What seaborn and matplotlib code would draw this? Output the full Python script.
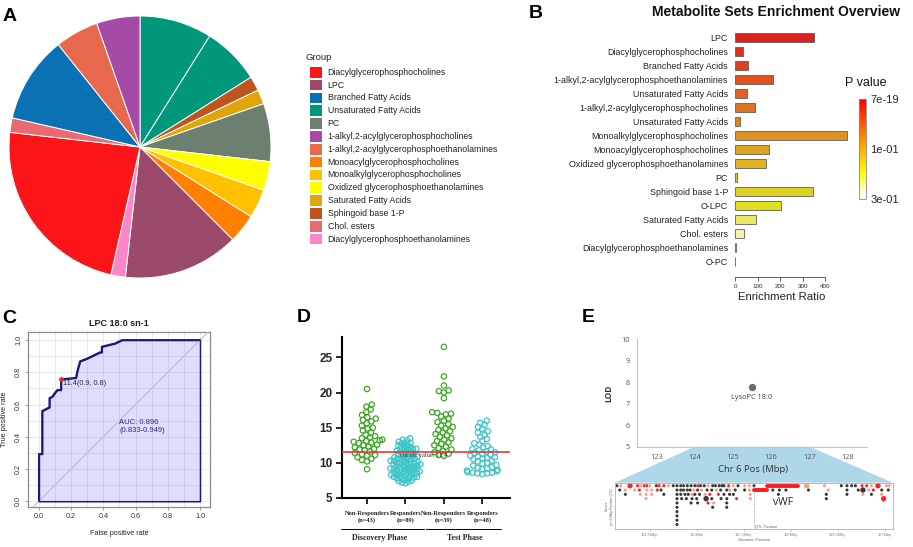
import numpy as np
import pandas as pd
import matplotlib
matplotlib.use("Agg")
import matplotlib.pyplot as plt
import seaborn as sns
from matplotlib.patches import Polygon, Rectangle
from matplotlib.colors import LinearSegmentedColormap, Normalize
from matplotlib.cm import ScalarMappable

# ---------------- Panel A data ----------------
legend_groups = ["Diacylglycerophosphocholines", "LPC", "Branched Fatty Acids",
                 "Unsaturated Fatty Acids", "PC", "1-alkyl,2-acylglycerophosphocholines",
                 "1-alkyl,2-acylglycerophosphoethanolamines", "Monoacylglycerophosphocholines",
                 "Monoalkylglycerophosphocholines", "Oxidized glycerophosphoethanolamines",
                 "Saturated Fatty Acids", "Sphingoid base 1-P", "Chol. esters",
                 "Diacylglycerophosphoethanolamines"]
legend_colors = ["#fb1418", "#9c4a6c", "#0a72b4", "#00977a", "#6d8070", "#a64aa8",
                 "#e8684e", "#ff7f00", "#ffc000", "#ffff00", "#dfa60c", "#c0541e",
                 "#e96a72", "#fa86c8"]
pie_groups = ["Unsaturated Fatty Acids", "Unsaturated Fatty Acids", "Sphingoid base 1-P",
              "Saturated Fatty Acids", "PC", "Oxidized glycerophosphoethanolamines",
              "Monoalkylglycerophosphocholines", "Monoacylglycerophosphocholines", "LPC",
              "Diacylglycerophosphoethanolamines", "Diacylglycerophosphocholines",
              "Chol. esters", "Branched Fatty Acids",
              "1-alkyl,2-acylglycerophosphoethanolamines",
              "1-alkyl,2-acylglycerophosphocholines"]
pie_counts = [5, 4, 1, 1, 4, 2, 2, 2, 8, 1, 13, 1, 6, 3, 3]

# ---------------- Panel B data ----------------
enrich_sets = ["LPC", "Diacylglycerophosphocholines", "Branched Fatty Acids",
               "1-alkyl,2-acylglycerophosphoethanolamines", "Unsaturated Fatty Acids",
               "1-alkyl,2-acylglycerophosphocholines", "Unsaturated Fatty Acids",
               "Monoalkylglycerophosphocholines", "Monoacylglycerophosphocholines",
               "Oxidized glycerophosphoethanolamines", "PC", "Sphingoid base 1-P", "O-LPC",
               "Saturated Fatty Acids", "Chol. esters", "Diacylglycerophosphoethanolamines",
               "O-PC"]
enrich_ratio = [350, 37, 56, 168, 53, 90, 20, 496, 152, 135, 9, 347, 205, 92, 41, 3, 2]
ratio_ticks = [0, 100, 200, 300, 400]
pval_labels = ["7e-19", "1e-01", "3e-01"]

# ---------------- Panel C data ----------------
roc_fpr = [0.0, 0.0, 0.02, 0.02, 0.065, 0.065, 0.083, 0.10, 0.114, 0.137, 0.137, 0.23,
           0.238, 0.255, 0.30, 0.379, 0.39, 0.39, 0.472, 0.516, 1.0]
roc_tpr = [0.0, 0.293, 0.293, 0.56, 0.583, 0.64, 0.649, 0.674, 0.69, 0.69, 0.756, 0.766,
           0.808, 0.868, 0.886, 0.924, 0.924, 0.959, 0.979, 1.0, 1.0]
best_point = [0.137, 0.756]
best_label = "11.4(0.9, 0.8)"
auc_text = "AUC: 0.896\n(0.833-0.949)"

# ---------------- Panel D data ----------------
nr_discovery = [20.5, 18.3, 18.0, 17.6, 17.2, 16.8, 16.5, 16.3, 16.1, 15.9, 15.6, 15.3, 15.0,
                14.9, 14.6, 14.3, 14.0, 13.8, 13.6, 13.5, 13.3, 13.2, 13.0, 12.9, 12.8, 12.6,
                12.5, 12.3, 12.2, 12.0, 11.9, 11.8, 11.6, 11.4, 11.2, 11.1, 11.0, 10.8, 10.6,
                10.4, 10.2, 9.1, 13.1]
r_discovery = [13.5, 13.3, 13.2, 13.0, 12.9, 12.8, 12.7, 12.5, 12.4, 12.3,
               12.2, 12.1, 12.0, 11.9, 11.8, 11.7, 11.6, 11.5, 11.4, 11.3,
               11.2, 11.1, 11.0, 10.9, 10.8, 10.8, 10.7, 10.6, 10.5, 10.5,
               10.4, 10.3, 10.3, 10.2, 10.1, 10.1, 10.0, 10.0, 9.9, 9.8,
               9.8, 9.7, 9.7, 9.6, 9.5, 9.5, 9.4, 9.4, 9.3, 9.2,
               9.2, 9.1, 9.1, 9.0, 8.9, 8.9, 8.8, 8.8, 8.7, 8.6,
               8.6, 8.5, 8.5, 8.4, 8.3, 8.3, 8.2, 8.1, 8.1, 8.0,
               8.0, 7.9, 7.8, 7.8, 7.7, 7.6, 7.5, 7.4, 7.3, 7.2,
               7.1, 11.6, 12.6, 9.9, 10.6, 9.0, 8.4, 12.0, 11.0]
nr_test = [26.5, 22.3, 21.0, 20.3, 20.2, 20.0, 19.2, 17.2, 17.1, 17.0, 16.9, 16.6, 16.3, 16.0,
           15.8, 15.5, 15.3, 15.1, 14.9, 14.7, 14.5, 14.3, 14.1, 13.9, 13.7, 13.5, 13.3, 13.1,
           12.9, 12.7, 12.5, 12.3, 12.1, 11.9, 11.7, 11.5, 11.3, 11.1, 11.0]
r_test = [16.0, 15.7, 15.4, 15.1, 14.8, 14.5, 14.3, 14.0, 13.7, 13.4, 13.1, 12.8, 12.6, 12.4,
          12.2, 12.0, 11.9, 11.8, 11.6, 11.5, 11.4, 11.3, 11.2, 11.0, 10.9, 10.8, 10.6, 10.5,
          10.3, 10.2, 10.0, 9.9, 9.7, 9.6, 9.4, 9.3, 9.2, 9.0, 8.9, 8.8, 8.7, 8.6, 8.5, 8.5,
          8.4, 8.6, 9.1, 10.7]
d_labels = ["Non-Responders\n(n=43)", "Responders\n(n=89)",
            "Non-Responders\n(n=39)", "Responders\n(n=48)"]
phase_names = ["Discovery Phase", "Test Phase"]
cutoff = 11.5
cutoff_label = "cut off value: 11.4"
d_yticks = [5, 10, 15, 20, 25]

# ---------------- Panel E data ----------------
qtl_mbp = [125.5]
qtl_lod = [7.78]
qtl_name = ["LysoPC 18:0"]
zoom_start, zoom_end = 124, 127
row0_mbp = [124.15, 124.19, 124.29, 124.37, 124.40, 124.44, 124.47, 124.50, 124.57, 124.60,
            124.65, 124.70, 124.75, 124.79, 124.83, 124.86, 124.90, 124.94, 124.98, 125.01,
            125.04, 125.08, 125.12, 125.17, 125.20, 125.24, 125.27, 125.29, 125.34, 125.39,
            125.44, 125.51, 125.56, 125.61, 126.17, 126.36, 126.54, 126.60, 126.65, 126.69,
            126.76, 126.81, 126.86, 126.93, 127.02, 127.05]
row0_kind = "ksRrsrrskrrskkkkkkkrkkskkkkkrskssk" + "SskkkkrrsRss"
row1_mbp = [124.18, 124.24, 124.34, 124.39, 124.47, 124.52, 124.58, 124.62, 124.79, 124.83,
            124.86, 124.90, 124.93, 124.97, 125.01, 125.05, 125.11, 125.16, 125.21, 125.255,
            125.32, 125.35, 125.41, 125.51, 125.56, 125.81, 125.88, 125.95, 126.19, 126.40,
            126.60, 126.72, 126.77, 126.83, 126.88, 126.97, 127.04]
row1_kind = "kssrssrkkkkkkskskkskkskks" + "kkkkskkKsrkk"
row2_mbp = [124.24, 124.40, 124.46, 124.52, 124.65, 124.79, 124.83, 124.875, 124.91, 124.95,
            124.98, 125.03, 125.09, 125.14, 125.23, 125.29, 125.35, 125.39, 125.57, 125.87,
            126.38, 126.60, 126.77, 126.86, 126.97]
row2_kind = "kssskkkkkskksrrkkkskkksks"
row3_mbp = [124.46, 124.79, 124.84, 124.89, 124.95, 125.00, 125.10, 125.16, 125.26, 125.32,
            125.425, 125.57, 126.38, 126.99]
row3_kind = "skkkkkKkkkrskR"
row4_mbp = [124.79, 124.94, 125.01, 125.12, 125.18, 125.32]
row4_kind = "kkkrsk"
row5_mbp = [124.79, 125.17, 125.32]
row5_kind = "kkk"
stack_mbp = 124.79
stack_rows = [6, 7, 8, 9]
vwf_rows = [0, 1]
vwf_start = [125.75, 125.61]
vwf_end = [126.08, 125.745]
qtl_track = 125.61
track_ticks = [124.5, 125.0, 125.5, 126.0, 126.5, 127.0]
track_ticklabels = ["124.5Mbp", "125Mbp", "125.5Mbp", "126Mbp", "126.5Mbp", "127Mbp"]

# ---------------- figure ----------------
sns.set_theme(style="white")
plt.rcParams["font.family"] = ["Liberation Sans", "DejaVu Sans"]

W, H = 913, 547
fig = plt.figure(figsize=(W / 100, H / 100), dpi=100)


def px_axes(l, t, r, b, **kw):
    return fig.add_axes([l / W, 1 - b / H, (r - l) / W, (b - t) / H], **kw)


ov = px_axes(0, 0, W, H, zorder=-5)
ov.set_xlim(0, W)
ov.set_ylim(H, 0)
ov.axis("off")

# panel letters
for letter, (lx, ly) in zip("ABCDE", [(3, 21), (529, 18), (2, 323), (297, 322), (582, 322)]):
    ov.text(lx, ly, letter, fontsize=14, fontweight="bold", va="baseline", ha="left", color="black")

# ---------------- Panel A ----------------
color_of = dict(zip(legend_groups, legend_colors))
axA = px_axes(9, 16, 271, 278)
axA.pie(pie_counts, colors=[color_of[g] for g in pie_groups], startangle=90,
        counterclock=False, wedgeprops=dict(edgecolor="white", linewidth=0.7))
axA.set_xlim(-1, 1)
axA.set_ylim(-1, 1)

ov.text(305, 57, "Group", fontsize=6.8, va="center", ha="left", color="#222")
for i, (g, c) in enumerate(zip(legend_groups, legend_colors)):
    yc = 72.3 + i * 12.83
    ov.add_patch(Rectangle((310, yc - 5.3), 11.5, 10.6, facecolor=c, edgecolor="none"))
    ov.text(327.5, yc, g, fontsize=6.3, va="center", ha="left", color="#222")

# ---------------- Panel B ----------------
cmap = LinearSegmentedColormap.from_list(
    "pv", [(0, "#ffffff"), (0.1, "#fffbc0"), (0.25, "#ffff00"), (0.55, "#ffa000"), (1, "#ff0000")])
n = len(enrich_sets)
bar_colors = [cmap(1 - i / (n - 1)) for i in range(n)]
axB = px_axes(735, 28, 848, 276.7)
dfB = pd.DataFrame({"sid": [f"s{i}" for i in range(n)], "ratio": enrich_ratio})
sns.barplot(data=dfB, x="ratio", y="sid", hue="sid", palette=bar_colors, legend=False,
            orient="h", width=0.64, edgecolor="#5e5e5e", linewidth=0.6, ax=axB)
axB.set_yticks(range(n))
axB.set_yticklabels(enrich_sets, fontsize=6.4, color="#222")
axB.set_xlim(0, 500)
axB.set_ylim(n - 1 + 1.06, -0.7)
axB.set_xlabel("")
axB.set_ylabel("")
for s in ["left", "top", "right"]:
    axB.spines[s].set_visible(False)
axB.spines["bottom"].set_bounds(0, 400)
axB.spines["bottom"].set_color("#444")
axB.spines["bottom"].set_linewidth(0.6)
axB.set_xticks(ratio_ticks)
axB.tick_params(axis="x", bottom=True, length=3, width=0.6, labelsize=4.5, color="#444", pad=2)
axB.tick_params(axis="y", left=False, length=0, pad=5)
axB.patch.set_alpha(0)
ov.text(776, 12.5, "Metabolite Sets Enrichment Overview", fontsize=10, fontweight="bold",
        ha="center", va="center", color="#111")
ov.text(782, 297, "Enrichment Ratio", fontsize=8.2, ha="center", va="center", color="#222")

cax = px_axes(859, 99, 866, 199)
cb = fig.colorbar(ScalarMappable(norm=Normalize(0, 1), cmap=cmap), cax=cax)
cb.set_ticks([1, 0.5, 0])
cb.set_ticklabels(pval_labels)
cb.ax.tick_params(length=0, labelsize=8, pad=3)
cb.outline.set_edgecolor("#888")
cb.outline.set_linewidth(0.6)
ov.text(866, 83, "P value", fontsize=9, ha="center", va="center", color="#111")

# ---------------- Panel C ----------------
axC = px_axes(28.3, 332.3, 210, 506.7)
axC.set_xlim(-0.066, 1.062)
axC.set_ylim(-0.034, 1.048)
axC.set_xticks(np.arange(0, 1.01, 0.1), minor=True)
axC.set_yticks(np.arange(0, 1.01, 0.1), minor=True)
axC.grid(which="both", color="#e2e2e2", lw=0.5)
axC.set_axisbelow(True)
axC.fill_between(roc_fpr, roc_tpr, 0, facecolor=(0.25, 0.25, 0.95, 0.17),
                 edgecolor="#1c1c78", linewidth=1.1, zorder=2)
axC.axline((0, 0), (1, 1), color="#bcbcd0", lw=0.8, zorder=3)
sns.lineplot(x=roc_fpr, y=roc_tpr, sort=False, estimator=None, color="#1c1c78", lw=1.4,
             ax=axC, zorder=4)
sns.scatterplot(x=[best_point[0]], y=[best_point[1]], color="#ff2020", s=12, linewidth=0,
                ax=axC, zorder=5)
axC.text(best_point[0] + 0.012, best_point[1] - 0.025, best_label, fontsize=5.2,
         color="#2a2a5a", va="center", ha="left")
axC.text(0.5, 0.463, auc_text, fontsize=5.5, color="#2a2a9a", va="center", ha="left",
         linespacing=1.1)
ticks = np.arange(0, 1.01, 0.2)
axC.set_xticks(ticks)
axC.set_yticks(ticks)
axC.set_xticklabels([f"{v:.1f}" for v in ticks], fontsize=5.2, color="#333")
axC.set_yticklabels([f"{v:.1f}" for v in ticks], fontsize=5.2, color="#333",
                    rotation=90, va="center")
axC.tick_params(which="major", bottom=True, left=True, length=2.5, width=0.5, color="#777", pad=2)
axC.tick_params(which="minor", length=0)
for s in axC.spines.values():
    s.set_color("#8a8a8a")
    s.set_linewidth(0.9)
axC.set_xlabel("False positive rate", fontsize=5.2, labelpad=7, color="#222")
axC.set_ylabel("True positive rate", fontsize=5.2, labelpad=5, color="#222")
ov.text(119, 324, "LPC 18:0 sn-1", fontsize=6.5, fontweight="bold", ha="center",
        va="center", color="#222")

# ---------------- Panel D ----------------
d_vals = [nr_discovery, r_discovery, nr_test, r_test]
dfD = pd.DataFrame({"group": np.repeat(d_labels, [len(a) for a in d_vals]),
                    "value": np.concatenate(d_vals)})
green, cyan = "#3aa820", "#3cc4c6"
axD = px_axes(342, 337, 510, 498)
sns.swarmplot(data=dfD, x="group", y="value", hue="group", order=d_labels,
              palette=[green, cyan, green, cyan], size=3.0, legend=False, ax=axD,
              warn_thresh=1.0)
# packing size used for the swarm layout (points overlap a little, as in the original)
pack_size = {0: 3.0, 1: 1.8, 2: 3.0, 3: 2.8}
swarm_cols = []
for coll in axD.collections:
    ci = int(round(coll.get_offsets()[:, 0].mean()))
    swarm_cols.append((coll, coll.get_facecolors().copy()))
    coll.set_sizes([pack_size.get(ci, 3.0) ** 2])
    coll.set_linewidths(0.6)
axD.axhline(cutoff, color="#e8383a", lw=1.2, zorder=5)
axD.text(0.85, 11.0, cutoff_label, fontsize=4.6, fontfamily="Liberation Serif",
         color="#333", va="center", ha="left", zorder=6)
axD.set_xlim(-0.65, 3.72)
axD.set_ylim(5, 27.9)
axD.set_yticks(d_yticks)
axD.set_yticklabels([str(v) for v in d_yticks], fontsize=8.5, fontweight="bold")
axD.set_xticks(range(4))
axD.set_xticklabels(d_labels, fontsize=4.6, fontweight="bold", fontfamily="Liberation Serif",
                    linespacing=1.5)
axD.tick_params(axis="y", left=True, length=4, width=1.2, pad=3, color="black")
axD.tick_params(axis="x", bottom=True, length=4, width=1.2, pad=5, color="black")
axD.set_xlabel("")
axD.set_ylabel("")
for s in ["top", "right"]:
    axD.spines[s].set_visible(False)
for s in ["left", "bottom"]:
    axD.spines[s].set_color("black")
    axD.spines[s].set_linewidth(1.5)
axD.patch.set_alpha(0)
trD = axD.get_xaxis_transform()
for (x0, x1), name, xc in zip([(-0.68, 1.48), (1.54, 3.48)], phase_names, [0.33, 2.55]):
    axD.plot([x0, x1], [-0.1925, -0.1925], transform=trD, clip_on=False, color="black", lw=0.7)
    axD.text(xc, -0.25, name, transform=trD, ha="center", va="center", fontsize=5.7,
             fontweight="bold", fontfamily="Liberation Serif")

# ---------------- Panel E ----------------
efont = ["Open Sans", "DejaVu Sans"]
axE = px_axes(637, 339, 867, 446.7)
sns.scatterplot(x=qtl_mbp, y=qtl_lod, color="#6b6b6b", s=28, linewidth=0, ax=axE)
axE.text(qtl_mbp[0], qtl_lod[0] - 0.5, qtl_name[0], ha="center", va="center", fontsize=5.3,
         color="#444", family=efont)
axE.set_xlim(122.5, 128.5)
axE.set_ylim(5, 10)
axE.set_xticks(range(123, 129))
axE.set_yticks(range(5, 11))
axE.set_xticklabels([str(v) for v in range(123, 129)], fontsize=5.3, color="#555", family=efont)
axE.set_yticklabels([str(v) for v in range(5, 11)], fontsize=5.3, color="#555", family=efont)
axE.tick_params(axis="both", length=0, pad=5)
for s in ["top", "right"]:
    axE.spines[s].set_visible(False)
for s in ["left", "bottom"]:
    axE.spines[s].set_color("#c4c4c4")
    axE.spines[s].set_linewidth(0.8)
axE.set_ylabel("LOD", fontsize=6, fontweight="bold", color="#333", family=efont)
axE.yaxis.set_label_coords(-0.104, 0.5)
axE.patch.set_alpha(0)

# zoom trapezoid from the top axis to the gene track
p0 = axE.transData.transform((zoom_start, 5))
p1 = axE.transData.transform((zoom_end, 5))
ov.add_patch(Polygon([[p0[0], H - p0[1]], [p1[0], H - p1[1]], [893, 482.7], [615, 482.7]],
                     closed=True, facecolor="#aed8e9", edgecolor="none"))
ov.text(753, 470, "Chr 6 Pos (Mbp)", fontsize=6.8, ha="center", va="center", color="#333",
        family=efont)

# gene track
rows = []
for r, (pos, kinds) in enumerate([(row0_mbp, row0_kind), (row1_mbp, row1_kind),
                                  (row2_mbp, row2_kind), (row3_mbp, row3_kind),
                                  (row4_mbp, row4_kind), (row5_mbp, row5_kind)]):
    for p, k in zip(pos, kinds):
        rows.append((p, r, k.lower(), "big" if k.isupper() else "small"))
for r in stack_rows:
    rows.append((stack_mbp, r, "k", "small"))
gdf = pd.DataFrame(rows, columns=["mbp", "row", "ck", "sz"])
axG = px_axes(615, 482.7, 893, 529.3)
axG.hlines(vwf_rows, vwf_start, vwf_end, color="#ff1a1a", lw=2.8, capstyle="round")
axG.axvline(qtl_track, color="#777", lw=0.6, ls=":")
sns.scatterplot(data=gdf, x="mbp", y="row", hue="ck",
                palette={"k": "#383838", "r": "#ff2222", "s": "#ff9c84"},
                size="sz", sizes={"small": 5, "big": 15}, legend=False, linewidth=0, ax=axG)
axG.text(125.815, 3.8, "vWF", fontsize=7.5, color="#222", va="center", ha="left", family=efont)
axG.text(qtl_track + 0.01, 9.6, "QTL Position", fontsize=2.8, color="#666", va="center")
axG.set_xlim(124.13, 127.09)
axG.set_ylim(10.1, -0.7)
axG.set_xticks(track_ticks)
axG.set_xticklabels(track_ticklabels, fontsize=2.8, color="#888")
axG.set_yticks([])
axG.tick_params(axis="x", bottom=True, length=1.5, width=0.4, color="#999", pad=1)
axG.set_xlabel("Genomic Position", fontsize=3, color="#666", labelpad=1)
axG.set_ylabel("Genes\n(n=3 Mbp Position QTL)", fontsize=2.5, color="#666", labelpad=1)
for s in axG.spines.values():
    s.set_color("#b0b0b0")
    s.set_linewidth(0.6)

# lay out the swarm once with the packing sizes, then draw open circles at full size
fig.canvas.draw()
for coll, fc in swarm_cols:
    coll.__dict__.pop("draw", None)
    coll.set_sizes([3.8 ** 2])
    coll.set_edgecolors(fc)
    coll.set_facecolors("none")
    coll.set_linewidths(0.9)

fig.savefig("out.png", dpi=100)
